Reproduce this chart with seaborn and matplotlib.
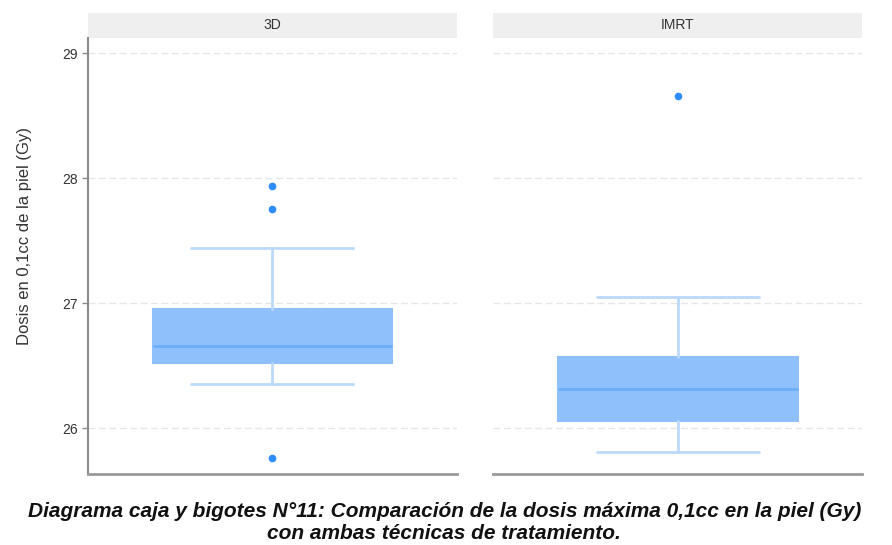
import matplotlib
matplotlib.use("Agg")
import matplotlib.pyplot as plt
from matplotlib.patches import Rectangle
import seaborn as sns
import pandas as pd

# Box-plot summary per treatment technique (Gy)
tecnicas = ["3D", "IMRT"]
q1 = [26.52, 26.06]
mediana = [26.66, 26.31]
q3 = [26.95, 26.57]
bigote_inf = [26.35, 25.81]
bigote_sup = [27.44, 27.05]
atipicos = [[27.94, 27.75, 25.76], [28.66]]

y_ticks = [26, 27, 28, 29]
y_label = "Dosis en 0,1cc de la piel (Gy)"
caption = ("Diagrama caja y bigotes N°11: Comparación de la dosis máxima 0,1cc en la piel (Gy)\n"
           "con ambas técnicas de tratamiento.")

df = pd.DataFrame({
    "tecnica": tecnicas, "q1": q1, "med": mediana, "q3": q3,
    "whislo": bigote_inf, "whishi": bigote_sup,
})
df["fliers"] = atipicos

sns.set_theme(style="white")
plt.rcParams["font.family"] = ["Liberation Sans", "DejaVu Sans"]

BOX_FILL = "#8fc0fb"
MED_COL = "#6aaef8"
WHISK_COL = "#bcd9fc"
FLIER_COL = "#2f8cfb"

g = sns.FacetGrid(df, col="tecnica", sharey=True, height=4, aspect=1)
g.figure.set_size_inches(8.92, 5.45)


def draw_box(data, **kws):
    ax = plt.gca()
    row = data.iloc[0]
    stats = [{
        "med": row["med"], "q1": row["q1"], "q3": row["q3"],
        "whislo": row["whislo"], "whishi": row["whishi"],
        "fliers": row["fliers"], "label": row["tecnica"],
    }]
    ax.bxp(stats, positions=[0], widths=[0.65], capwidths=[0.44],
           patch_artist=True, showfliers=True,
           boxprops=dict(facecolor=BOX_FILL, edgecolor=BOX_FILL, linewidth=1.5),
           medianprops=dict(color=MED_COL, linewidth=2),
           whiskerprops=dict(color=WHISK_COL, linewidth=2),
           capprops=dict(color=WHISK_COL, linewidth=2),
           flierprops=dict(marker="o", markersize=4.5, markerfacecolor=FLIER_COL,
                           markeredgecolor=FLIER_COL, linestyle="none"))


g.map_dataframe(draw_box)
g.figure.subplots_adjust(left=0.0987, right=0.9664, bottom=0.1303, top=0.930, wspace=0.1)

for i, ax in enumerate(g.axes.flat):
    ax.set_xlim(-0.5, 0.5)
    ax.set_ylim(25.632, 29.12)
    ax.set_yticks(y_ticks)
    ax.set_xticks([])
    ax.set_xlabel("")
    ax.set_title("")
    for y in y_ticks:
        ax.axhline(y, color="#e6e6e6", linewidth=1, linestyle=(0, (5, 2.5)), zorder=0)
    for side in ["top", "right"]:
        ax.spines[side].set_visible(False)
    ax.spines["bottom"].set_color("#9a9a9a")
    ax.spines["bottom"].set_linewidth(2)
    if i == 0:
        ax.spines["left"].set_color("#8a8a8a")
        ax.spines["left"].set_linewidth(1.5)
        ax.tick_params(axis="y", left=True, length=4, width=1, color="#8a8a8a",
                       labelsize=10, labelcolor="#333333", pad=3.5)
        ax.set_ylabel(y_label, fontsize=12, color="#333333")
        ax.yaxis.set_label_coords(-0.152, 0.546)
    else:
        ax.spines["left"].set_visible(False)
        ax.tick_params(axis="y", left=False, labelleft=False)
        ax.set_ylabel("")
    # grey facet strip above each panel
    strip = Rectangle((0, 1.0), 1, 0.0585, transform=ax.transAxes, facecolor="#efefef",
                      edgecolor="none", clip_on=False)
    ax.add_patch(strip)
    ax.text(0.5, 1.0292, tecnicas[i], transform=ax.transAxes, ha="center", va="center",
            fontsize=10, color="#333333")

g.figure.text(0.498, 0.041, caption, ha="center", va="center", fontsize=15,
              fontweight="bold", fontstyle="italic", linespacing=1.22, color="#111111",
              family=["Liberation Sans Narrow", "Liberation Sans", "DejaVu Sans"])

g.figure.savefig("out.png", dpi=100)
